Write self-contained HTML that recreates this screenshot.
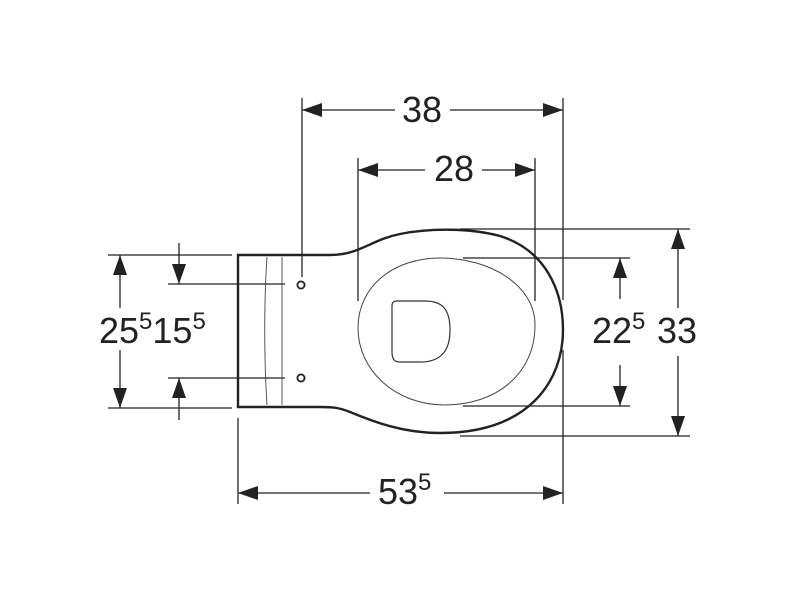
<!DOCTYPE html>
<html><head><style>html,body{margin:0;padding:0;background:#fff}svg{display:block}text{font-family:"Liberation Sans",sans-serif;fill:#222}</style></head><body>
<svg width="800" height="600" viewBox="0 0 800 600" xmlns="http://www.w3.org/2000/svg">
<defs>
<marker id="a" viewBox="0 0 20 14" refX="20" refY="7" markerWidth="20" markerHeight="14" markerUnits="userSpaceOnUse" orient="auto-start-reverse"><path d="M0,0L20,7L0,14Z" fill="#222"/></marker>
</defs>
<g stroke="#222" stroke-width="1.3" fill="none">
<!-- extension lines -->
<line x1="302" y1="98" x2="302" y2="277"/>
<line x1="563" y1="98" x2="563" y2="300"/>
<line x1="563" y1="350" x2="563" y2="504"/>
<line x1="358" y1="158" x2="358" y2="301"/>
<line x1="535" y1="158" x2="535" y2="301"/>
<line x1="460" y1="229" x2="690" y2="229"/>
<line x1="460" y1="436" x2="690" y2="436"/>
<line x1="463" y1="258" x2="630" y2="258"/>
<line x1="463" y1="406" x2="630" y2="406"/>
<line x1="108" y1="255" x2="232" y2="255"/>
<line x1="108" y1="408" x2="232" y2="408"/>
<line x1="168" y1="284" x2="285" y2="284"/>
<line x1="168" y1="378" x2="285" y2="378"/>
<line x1="238" y1="418" x2="238" y2="504"/>
<!-- dimension lines -->
<line x1="302" y1="110" x2="395" y2="110" marker-start="url(#a)"/>
<line x1="450" y1="110" x2="563" y2="110" marker-end="url(#a)"/>
<line x1="358" y1="170" x2="425" y2="170" marker-start="url(#a)"/>
<line x1="482" y1="170" x2="535" y2="170" marker-end="url(#a)"/>
<line x1="238" y1="493" x2="370" y2="493" marker-start="url(#a)"/>
<line x1="444" y1="493" x2="563" y2="493" marker-end="url(#a)"/>
<line x1="678" y1="308" x2="678" y2="229" marker-end="url(#a)"/>
<line x1="678" y1="356" x2="678" y2="436" marker-end="url(#a)"/>
<line x1="620" y1="299" x2="620" y2="258" marker-end="url(#a)"/>
<line x1="620" y1="365" x2="620" y2="406" marker-end="url(#a)"/>
<line x1="120" y1="308" x2="120" y2="255" marker-end="url(#a)"/>
<line x1="120" y1="350" x2="120" y2="408" marker-end="url(#a)"/>
<line x1="179" y1="243" x2="179" y2="284" marker-end="url(#a)"/>
<line x1="179" y1="420" x2="179" y2="378" marker-end="url(#a)"/>
</g>
<!-- toilet outline -->
<path d="M238,255 L330,255 C360,255 370,240 400,234 C430,228 470,228 500,236 C545,250 563,290 563,330 C563,380 530,433 440,433 C400,433 370,420 350,412 C340,408 335,407 320,407 L238,407 Z" fill="none" stroke="#222" stroke-width="2.4"/>
<path d="M267,257 C264,300 264,360 267,405" fill="none" stroke="#444" stroke-width="0.9"/>
<line x1="282" y1="257" x2="282" y2="405" stroke="#444" stroke-width="0.9"/>
<circle cx="301" cy="285" r="3.6" fill="none" stroke="#222" stroke-width="1.8"/>
<circle cx="301" cy="378" r="3.6" fill="none" stroke="#222" stroke-width="1.8"/>
<path d="M440,258 C490,258 535,285 535,325 C535,375 495,405 445,405 C395,405 358,370 358,328 C358,285 395,258 440,258 Z" fill="none" stroke="#444" stroke-width="1"/>
<path d="M397,301 L425,301 C443,301 450,310 450,330 C450,352 440,362 420,362 L399,362 C394,362 392,358 392,352 L392,306 C392,302 394,301 397,301 Z" fill="none" stroke="#333" stroke-width="1.2"/>
<!-- labels -->
<text x="422" y="122" font-size="36" text-anchor="middle">38</text>
<text x="454" y="181" font-size="36" text-anchor="middle">28</text>
<text x="378" y="504" font-size="36">53<tspan font-size="24" dy="-14">5</tspan></text>
<text x="592" y="343" font-size="36">22<tspan font-size="24" dy="-14">5</tspan></text>
<text x="657" y="343" font-size="36">33</text>
<text x="99" y="343" font-size="36">25<tspan font-size="24" dy="-14">5</tspan><tspan dy="14">15</tspan><tspan font-size="24" dy="-14">5</tspan></text>
</svg>
</body></html>
